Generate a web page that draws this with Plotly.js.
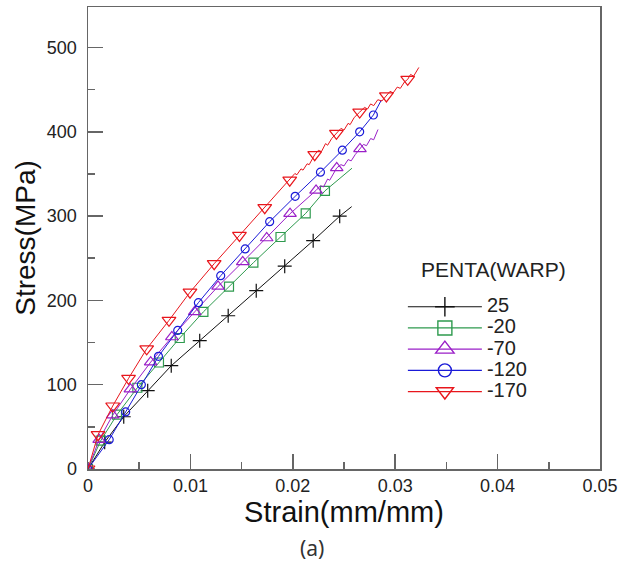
<!DOCTYPE html>
<html><head><meta charset="utf-8">
<script src="https://cdn.plot.ly/plotly-3.0.1.min.js"></script>
<style>html,body{margin:0;padding:0;background:#fff}</style>
</head><body><div id="chart" style="width:628px;height:564px"></div>
<script>
// ---- data (strain in mm/mm, stress in MPa) ----
var seriesNames = ['25', '-20', '-70', '-120', '-170'];
var legendTitle = 'PENTA(WARP)';
var xTickVals = [0, 0.01, 0.02, 0.03, 0.04, 0.05];
var xTickText = ['0', '0.01', '0.02', '0.03', '0.04', '0.05'];
var yTickVals = [0, 100, 200, 300, 400, 500];
var yTickText = ['0', '100', '200', '300', '400', '500'];

// 25
var mark25Strain = [0, 0.00163, 0.00349, 0.00583, 0.00813, 0.01091, 0.01369, 0.01643, 0.01921, 0.02199, 0.02458];
var mark25Stress = [0, 31.8, 62.0, 92.9, 122.5, 152.2, 181.8, 211.5, 240.6, 270.8, 299.9];
var line25Strain = [0, 0.00163, 0.00349, 0.00583, 0.00813, 0.01091, 0.01369, 0.01643, 0.01921, 0.02199, 0.02458, 0.02575];
var line25Stress = [0, 31.8, 62.0, 92.9, 122.5, 152.2, 181.8, 211.5, 240.6, 270.8, 299.9, 311.2];

// -20
var markM20Strain = [0, 0.00124, 0.00283, 0.00482, 0.00693, 0.00896, 0.01127, 0.01377, 0.01615, 0.0188, 0.02126, 0.02314];
var markM20Stress = [0, 33.6, 64.4, 96.4, 126.3, 155.4, 186.4, 216.3, 244.7, 275.2, 303.2, 329.9];
var lineM20Strain = [0, 0.00124, 0.00283, 0.00482, 0.00693, 0.00896, 0.01127, 0.01377, 0.01615, 0.0188, 0.02126, 0.02314, 0.02578];
var lineM20Stress = [0, 33.6, 64.4, 96.4, 126.3, 155.4, 186.4, 216.3, 244.7, 275.2, 303.2, 329.9, 356.8];

// -70
var markM70Strain = [0, 0.00109, 0.00241, 0.00414, 0.00612, 0.00819, 0.01042, 0.0127, 0.01511, 0.01745, 0.01973, 0.02227, 0.02429, 0.02656];
var markM70Stress = [0, 34.8, 63.8, 94.7, 126.7, 156.6, 186.4, 216.6, 245.7, 274.0, 302.8, 330.4, 357.1, 379.6];
var lineM70Strain = [0, 0.00109, 0.00241, 0.00414, 0.00612, 0.00819, 0.01042, 0.0127, 0.01511, 0.01745, 0.01973, 0.02227,
  0.0227, 0.0230, 0.0234, 0.0236, 0.02429, 0.0247, 0.0250, 0.0254, 0.0257, 0.0261, 0.02656, 0.0269, 0.0272, 0.0276, 0.0279, 0.02832];
var lineM70Stress = [0, 34.8, 63.8, 94.7, 126.7, 156.6, 186.4, 216.6, 245.7, 274.0, 302.8, 330.4,
  336, 334.5, 344, 342.5, 357.1, 361, 359.5, 367, 365.5, 373, 379.6, 385, 383.5, 392, 390.5, 402.7];

// -120
var markM120Strain = [0, 0.00207, 0.00368, 0.00521, 0.00688, 0.00876, 0.01078, 0.01296, 0.01535, 0.01774, 0.02023, 0.0227, 0.02484, 0.02653, 0.02787];
var markM120Stress = [0, 34.8, 67.7, 100.0, 133.6, 164.4, 197.3, 229.3, 261.1, 293.4, 323.4, 352.1, 378.2, 399.9, 419.9];
var lineM120Strain = [0, 0.00207, 0.00368, 0.00521, 0.00688, 0.00876, 0.01078, 0.01296, 0.01535, 0.01774, 0.02023, 0.0227, 0.02484, 0.02653, 0.02787, 0.02865];
var lineM120Stress = [0, 34.8, 67.7, 100.0, 133.6, 164.4, 197.3, 229.3, 261.1, 293.4, 323.4, 352.1, 378.2, 399.9, 419.9, 437.7];

// -170
var markM170Strain = [0, 0.00098, 0.00241, 0.00396, 0.00573, 0.00791, 0.00996, 0.01232, 0.01479, 0.01726, 0.0197, 0.02214, 0.02426, 0.02653, 0.02914, 0.03122];
var markM170Stress = [0, 40.7, 74.7, 107.5, 142.5, 176.3, 209.7, 243.5, 277.0, 310.0, 342.6, 372.8, 398.1, 423.3, 442.5, 462.2];
var lineM170Strain = [0, 0.00098, 0.00241, 0.00396, 0.00573, 0.00791, 0.00996, 0.01232, 0.01479, 0.01726, 0.0197,
  0.0202, 0.0204, 0.0208, 0.0210, 0.0214, 0.0216, 0.02214, 0.0225, 0.0228, 0.0232, 0.0234, 0.0238, 0.02426,
  0.0247, 0.0250, 0.0254, 0.0256, 0.0260, 0.02653, 0.0270, 0.0273, 0.0276, 0.0279, 0.0283, 0.0287, 0.02914,
  0.0295, 0.0298, 0.0302, 0.0305, 0.0309, 0.03122, 0.0315, 0.0318, 0.03231];
var lineM170Stress = [0, 40.7, 74.7, 107.5, 142.5, 176.3, 209.7, 243.5, 277.0, 310.0, 342.6,
  350.5, 349, 356, 354.5, 362, 361, 372.8, 378, 376.5, 386, 384, 392, 398.1,
  404, 402, 410, 408.5, 417, 423.3, 429, 427, 433, 431, 438, 436.5, 442.5,
  448, 446, 453, 451.5, 459, 462.2, 468, 466, 476.3];

// ---- styling ----
var colors = ['#111111', '#2e9a4e', '#9a1fc8', '#1a1ad8', '#e8161c'];
var symbols = ['cross-thin-open', 'square-open', 'triangle-up-open', 'circle-open', 'triangle-down-open'];
var markSizes = [10, 9, 11, 8, 12];
var legSizes = [14, 14, 17, 13, 15];

var lines = [[line25Strain, line25Stress], [lineM20Strain, lineM20Stress], [lineM70Strain, lineM70Stress],
             [lineM120Strain, lineM120Stress], [lineM170Strain, lineM170Stress]];
var marks = [[mark25Strain, mark25Stress], [markM20Strain, markM20Stress], [markM70Strain, markM70Stress],
             [markM120Strain, markM120Stress], [markM170Strain, markM170Stress]];

var traces = [];
for (var i = 0; i < seriesNames.length; i++) {
  traces.push({x: lines[i][0], y: lines[i][1], mode: 'lines', type: 'scatter', showlegend: false,
    legendgroup: 'g' + i, line: {color: colors[i], width: 1}, hoverinfo: 'skip'});
  traces.push({x: marks[i][0], y: marks[i][1], mode: 'markers', type: 'scatter', showlegend: false,
    legendgroup: 'g' + i, name: seriesNames[i],
    marker: {symbol: symbols[i], size: markSizes[i], color: colors[i], line: {width: 1.2, color: colors[i]}}});
}
for (var j = 0; j < seriesNames.length; j++) {
  traces.push({x: [null], y: [null], mode: 'lines+markers', type: 'scatter', legendgroup: 'g' + j,
    name: '<span style="font-size:20px">' + seriesNames[j] + '</span>',
    line: {color: colors[j], width: 1.2},
    marker: {symbol: symbols[j], size: legSizes[j], color: colors[j], line: {width: 1.4, color: colors[j]}}});
}

var font = 'Liberation Sans, Arial, sans-serif';
var axisCol = '#666666';
var layout = {
  width: 628, height: 564,
  margin: {l: 88, r: 28, t: 7, b: 95},
  paper_bgcolor: '#ffffff', plot_bgcolor: '#ffffff',
  font: {family: font, color: '#222222'},
  showlegend: true,
  legend: {x: 0.615, y: 0.385, xanchor: 'left', yanchor: 'top', bgcolor: 'rgba(0,0,0,0)',
    font: {size: 14, family: font, color: '#222'}, itemwidth: 74, traceorder: 'normal'},
  xaxis: {range: [0, 0.05], tickvals: xTickVals, ticktext: xTickText, ticks: 'inside', ticklen: 15,
    tickwidth: 1.5, tickcolor: axisCol, showline: true, linecolor: axisCol, linewidth: 1.5, mirror: true,
    showgrid: false, zeroline: false, tickfont: {size: 18, family: font, color: '#222'},
    minor: {ticks: 'inside', ticklen: 7, dtick: 0.005, tickwidth: 1.5, tickcolor: axisCol, showgrid: false},
    title: {text: 'Strain(mm/mm)', font: {size: 29, family: font, color: '#111'}, standoff: 5}},
  yaxis: {range: [0, 548], tickvals: yTickVals, ticktext: yTickText, ticks: 'inside', ticklen: 15,
    tickwidth: 1.5, tickcolor: axisCol, showline: true, linecolor: axisCol, linewidth: 1.5, mirror: true,
    showgrid: false, zeroline: false, tickfont: {size: 18, family: font, color: '#222'}, ticklabelstandoff: 6,
    minor: {ticks: 'inside', ticklen: 7, dtick: 50, tickwidth: 1.5, tickcolor: axisCol, showgrid: false},
    title: {text: 'Stress(MPa)', font: {size: 28, family: font, color: '#111'}, standoff: 3}},
  annotations: [
    {text: legendTitle, xref: 'paper', yref: 'paper', x: 0.646, y: 0.4326, xanchor: 'left', yanchor: 'middle',
     showarrow: false, font: {size: 21, family: font, color: '#222'}},
    {text: '(a)', xref: 'paper', yref: 'paper', x: 0.437, y: -0.170, xanchor: 'center', yanchor: 'middle',
     showarrow: false, font: {size: 21, family: 'Noto Sans, sans-serif', color: '#333'}}
  ]
};

Plotly.newPlot('chart', traces, layout, {displayModeBar: false, staticPlot: true});
</script></body></html>
